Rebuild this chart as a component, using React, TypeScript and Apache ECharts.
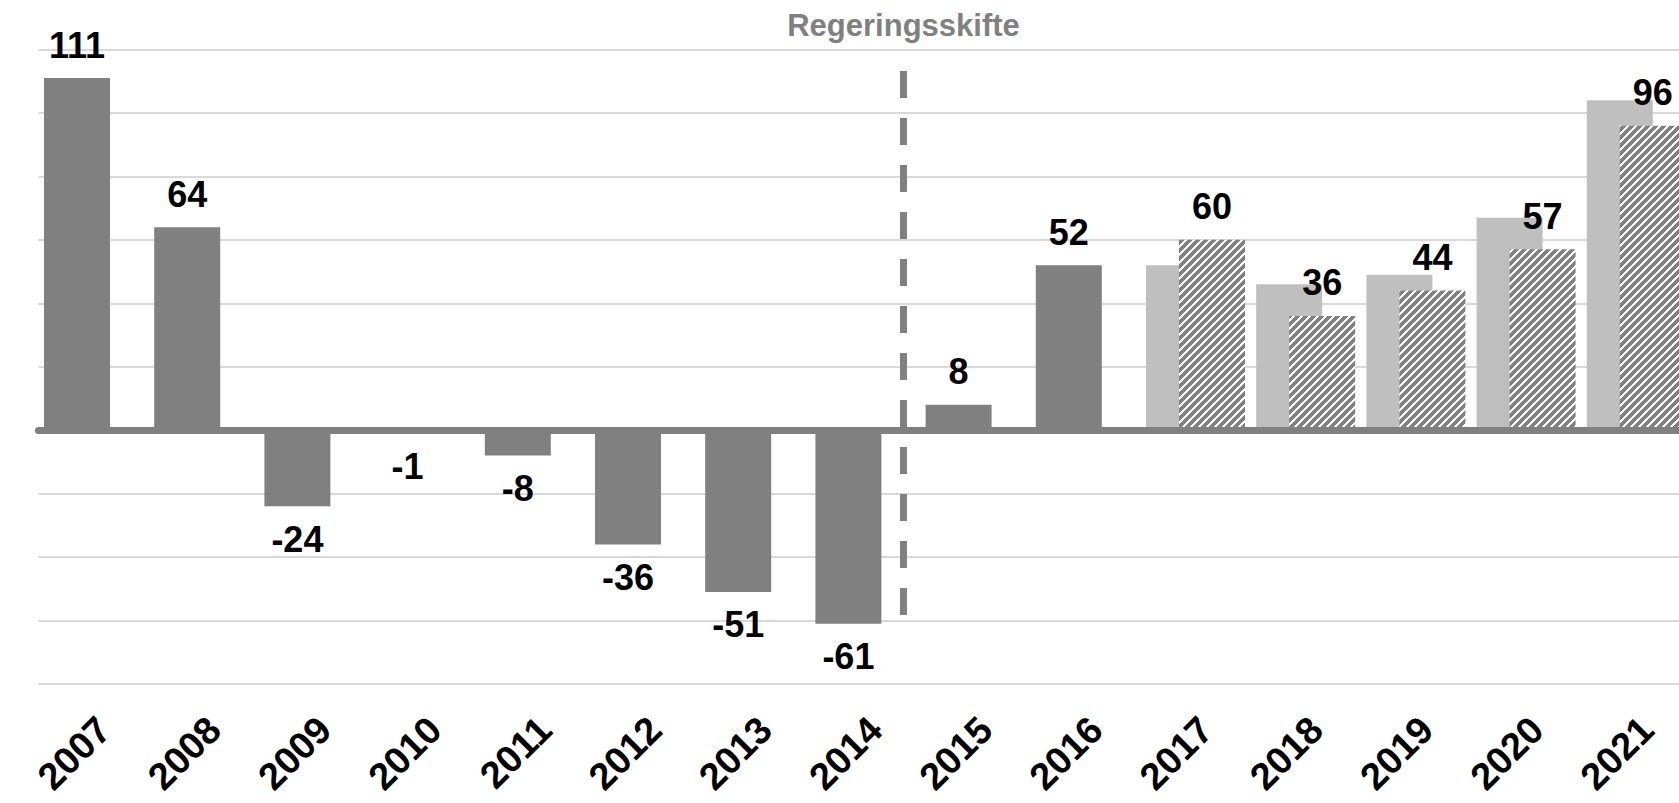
import React, { useEffect, useRef } from "react";
import * as echarts from "echarts";

// ---- data ----
const years = [
  "2007", "2008", "2009", "2010", "2011", "2012", "2013", "2014",
  "2015", "2016", "2017", "2018", "2019", "2020", "2021",
];
// outcome 2007–2016 (dark bars)
const outcome = [111, 64, -24, -1, -8, -36, -51, -61, 8, 52];
// earlier forecast 2017–2021 (light bars)
const earlierForecast = [52, 46, 49, 67, 104];
// new forecast 2017–2021 (hatched bars)
const newForecast = [60, 36, 44, 57, 96];
// y axis ticks
const yMin = -80;
const yMax = 120;
const yStep = 20;
// annotation
const shiftLabel = "Regeringsskifte";
const shiftBetween = ["2014", "2015"];
const shiftLineRange = [113.2, -58.4];

// ---- styles ----
const DARK = "#808080";
const LIGHT = "#bfbfbf";
const GRID = "#d9d9d9";
const FONT = '"Liberation Sans", Arial, sans-serif';
const BAR_W = 66;

function makeHatch(): HTMLCanvasElement {
  const c = document.createElement("canvas");
  c.width = 8;
  c.height = 8;
  const ctx = c.getContext("2d")!;
  ctx.fillStyle = DARK;
  ctx.fillRect(0, 0, 8, 8);
  ctx.fillStyle = "#ffffff";
  for (let y = 0; y < 8; y++) {
    for (let x = 0; x < 8; x++) {
      if ((x + y) % 8 < 3) ctx.fillRect(x, y, 1, 1);
    }
  }
  return c;
}

export default function App() {
  const ref = useRef<HTMLDivElement>(null);

  useEffect(() => {
    if (!ref.current) return;
    const chart = echarts.init(ref.current, null, { renderer: "svg" });

    const blanks = outcome.map(() => "-" as any);
    const outcomeData = outcome
      .map((v) => ({
        value: v,
        label: { position: v < 0 ? "bottom" : "top" },
      }))
      .concat(earlierForecast.map(() => "-" as any));
    const earlierData = blanks.concat(earlierForecast);
    const newData = blanks.concat(newForecast);

    const labelStyle = {
      show: true,
      distance: 15,
      color: "#000",
      fontSize: 36,
      fontWeight: "bold",
      fontFamily: FONT,
    };

    chart.setOption({
      animation: false,
      backgroundColor: "#ffffff",
      grid: {
        left: 38.4,
        top: 49.5,
        width: 1653,
        height: 634.5,
        containLabel: false,
        outerBoundsMode: "none",
      },
      xAxis: [
        {
          type: "category",
          data: years,
          position: "bottom",
          axisLine: { show: false, onZero: false },
          axisTick: { show: false },
          splitLine: { show: false },
          axisLabel: {
            interval: 0,
            rotate: 45,
            margin: 23,
            align: "right",
            verticalAlign: "top",
            padding: [0, 4, 0, 0],
            color: "#000",
            fontSize: 38,
            fontWeight: "bold",
            fontFamily: FONT,
          },
        },
        {
          type: "category",
          data: years,
          position: "top",
          z: 5,
          axisLine: {
            show: true,
            onZero: true,
            lineStyle: { color: DARK, width: 7 },
          },
          axisTick: { show: false },
          axisLabel: { show: false },
          splitLine: { show: false },
        },
      ],
      yAxis: {
        type: "value",
        min: yMin,
        max: yMax,
        interval: yStep,
        axisLine: { show: false },
        axisTick: { show: false },
        axisLabel: { show: false },
        splitLine: { show: true, lineStyle: { color: GRID, width: 2 } },
      },
      series: [
        {
          name: "Utfall",
          type: "bar",
          stack: "main",
          xAxisIndex: 0,
          barWidth: BAR_W,
          barGap: "-50%",
          itemStyle: { color: DARK },
          label: labelStyle,
          data: outcomeData,
        },
        {
          name: "Tidigare prognos",
          type: "bar",
          stack: "main",
          xAxisIndex: 0,
          barWidth: BAR_W,
          barGap: "-50%",
          itemStyle: { color: LIGHT },
          data: earlierData,
        },
        {
          name: "Ny prognos",
          type: "bar",
          xAxisIndex: 0,
          barWidth: BAR_W,
          barGap: "-50%",
          itemStyle: { color: { image: makeHatch(), repeat: "repeat" } },
          label: { ...labelStyle, position: "top" },
          data: newData,
        },
      ],
    });

    const xa = chart.convertToPixel({ xAxisIndex: 0 }, shiftBetween[0]) as number;
    const xb = chart.convertToPixel({ xAxisIndex: 0 }, shiftBetween[1]) as number;
    const lineX = (xa + xb) / 2 - BAR_W / 4;
    const yTop = chart.convertToPixel({ yAxisIndex: 0 }, shiftLineRange[0]) as number;
    const yBot = chart.convertToPixel({ yAxisIndex: 0 }, shiftLineRange[1]) as number;

    chart.setOption({
      graphic: [
        {
          type: "line",
          z: 10,
          shape: { x1: lineX, y1: yTop, x2: lineX, y2: yBot },
          style: { stroke: DARK, lineWidth: 7, lineDash: [27, 20], lineCap: "butt" },
        },
        {
          type: "text",
          z: 10,
          x: lineX,
          y: 25.5,
          style: {
            text: shiftLabel,
            fill: DARK,
            fontSize: 31,
            fontWeight: "bold",
            fontFamily: FONT,
            align: "center",
            verticalAlign: "middle",
          },
        },
      ],
    });

    return () => chart.dispose();
  }, []);

  return (
    <div
      style={{
        position: "fixed",
        left: 0,
        top: 0,
        width: 1679,
        height: 803,
        overflow: "hidden",
        background: "#fff",
      }}
    >
      <div ref={ref} style={{ width: 1679, height: 803 }} />
    </div>
  );
}
